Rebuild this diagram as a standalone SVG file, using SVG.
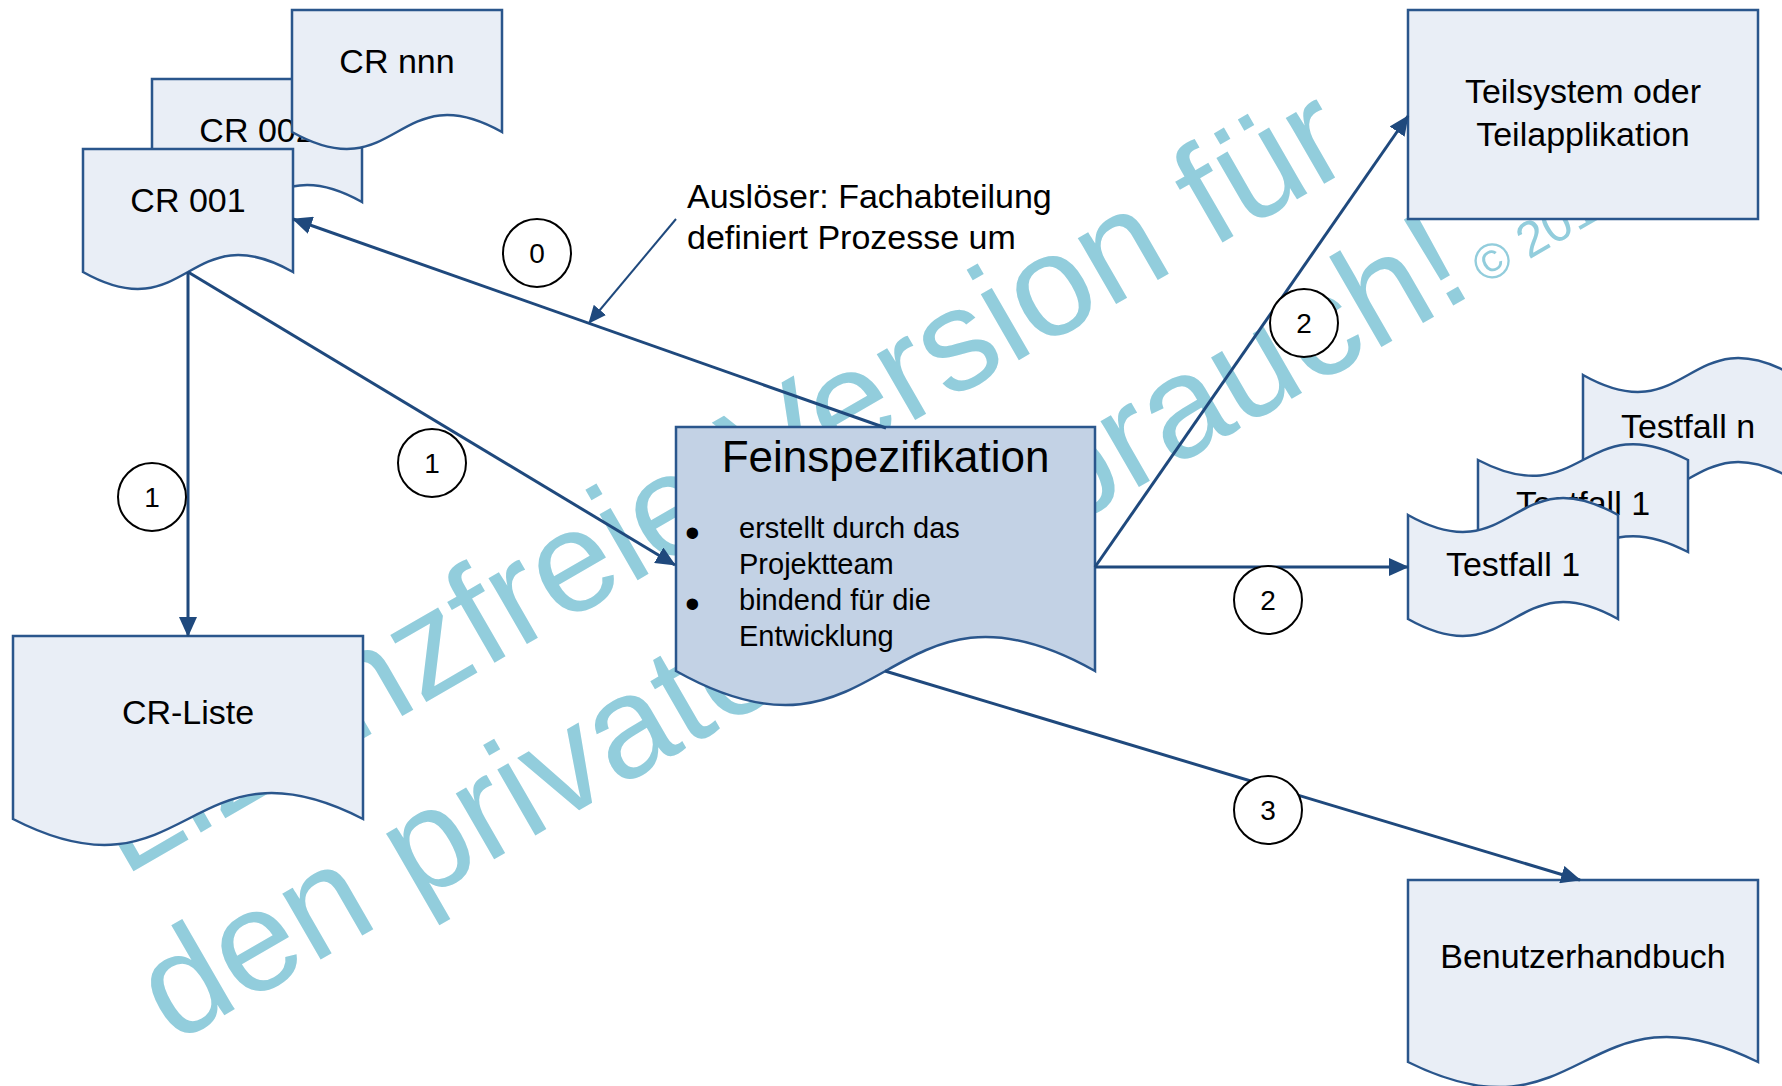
<svg xmlns="http://www.w3.org/2000/svg" width="1782" height="1086" viewBox="0 0 1782 1086">
  <defs>
    <style>
      text { font-family: "Liberation Sans", Arial, sans-serif; fill: #000; }
      .doc { fill: #e9eef6; stroke: #2a568c; stroke-width: 2.5; stroke-linejoin: miter; }
      .doc-dark { fill: #c3d2e5; stroke: #2a568c; stroke-width: 2.5; }
      .lbl { font-size: 34px; text-anchor: middle; }
      .edge { fill: none; stroke: #1f497d; stroke-width: 3; }
      .note { fill: none; stroke: #1f497d; stroke-width: 2; }
      .badge circle { fill: #fff; stroke: #000; stroke-width: 2; }
      .badge text { font-size: 28px; text-anchor: middle; }
      .wm { fill: #92cddc; text-anchor: middle; font-size: 144px; }
      .bullet { font-size: 42px; }
    </style>
    <marker id="arrow" markerUnits="userSpaceOnUse" markerWidth="20" markerHeight="18" refX="19" refY="9" orient="auto">
      <path d="M0,0 L20,9 L0,18 Z" fill="#1f497d"/>
    </marker>
    <marker id="arrow-sm" markerUnits="userSpaceOnUse" markerWidth="18" markerHeight="16" refX="17" refY="8" orient="auto">
      <path d="M0,0 L18,8 L0,16 Z" fill="#1f497d"/>
    </marker>
  </defs>

  <rect width="1782" height="1086" fill="#fff"/>

  <!-- watermark -->
  <g id="watermark" transform="translate(120,879) rotate(-30)">
    <text class="wm" x="716" y="0">Lizenzfreie Version für</text>
    <text class="wm" x="716" y="170">den privaten Gebrauch!</text>
    <text x="1479" y="168" style="fill:#92cddc;font-size:50px">© 201</text>
  </g>

  <!-- change requests stack -->
  <g id="cr002">
    <path class="doc" d="M152,79 H362 V202 C257,143 257,261 152,202 Z"/>
    <text class="lbl" x="257" y="142">CR 002</text>
  </g>
  <g id="crnnn">
    <path class="doc" d="M292,10 H502 V132 C397,73 397,191 292,132 Z"/>
    <text class="lbl" x="397" y="73">CR nnn</text>
  </g>
  <g id="cr001">
    <path class="doc" d="M83,149 H293 V272 C188,213 188,331 83,272 Z"/>
    <text class="lbl" x="188" y="212">CR 001</text>
  </g>

  <g id="crliste">
    <path class="doc" d="M13,636 H363 V819 C188,729 188,909 13,819 Z"/>
    <text class="lbl" x="188" y="724">CR-Liste</text>
  </g>

  <g id="feinspezifikation">
    <path class="doc-dark" d="M676,427 H1095 V671 C885.5,553 885.5,789 676,671 Z"/>
    <text x="885.5" y="472" style="font-size:44px;text-anchor:middle">Feinspezifikation</text>
    <g style="font-size:29px">
      <text class="bullet" x="685" y="547">•</text>
      <text x="739" y="538">erstellt durch das</text>
      <text x="739" y="574">Projektteam</text>
      <text class="bullet" x="685" y="618">•</text>
      <text x="739" y="610">bindend für die</text>
      <text x="739" y="646">Entwicklung</text>
    </g>
  </g>

  <g id="teilsystem">
    <rect class="doc" x="1408" y="10" width="350" height="209"/>
    <text class="lbl" x="1583" y="103">Teilsystem oder</text>
    <text class="lbl" x="1583" y="146">Teilapplikation</text>
  </g>

  <!-- test case stack -->
  <g id="testfall-n">
    <path class="doc" d="M1583,375 C1688,434 1688,316 1793,375 V479 C1688,420 1688,538 1583,479 Z"/>
    <text class="lbl" x="1688" y="438">Testfall n</text>
  </g>
  <g id="testfall-1b">
    <path class="doc" d="M1478,460 C1583,515 1583,405 1688,460 V552 C1583,497 1583,607 1478,552 Z"/>
    <text class="lbl" x="1583" y="515">Testfall 1</text>
  </g>
  <g id="testfall-1">
    <path class="doc" d="M1408,515 C1513,574 1513,456 1618,515 V619 C1513,560 1513,678 1408,619 Z"/>
    <text class="lbl" x="1513" y="576">Testfall 1</text>
  </g>

  <g id="benutzerhandbuch">
    <path class="doc" d="M1408,880 H1758 V1062 C1583,975 1583,1149 1408,1062 Z"/>
    <text class="lbl" x="1583" y="968">Benutzerhandbuch</text>
  </g>

  <g id="annotation">
    <text x="687" y="208" style="font-size:34px">Auslöser: Fachabteilung</text>
    <text x="687" y="249" style="font-size:34px">definiert Prozesse um</text>
  </g>

  <!-- connectors -->
  <g id="connectors">
    <path class="edge" d="M886,428 L293,219" marker-end="url(#arrow)"/>
    <path class="note" d="M676,219 L589,323" marker-end="url(#arrow-sm)"/>
    <path class="edge" d="M188,272 L675,565" marker-end="url(#arrow)"/>
    <path class="edge" d="M188,272 L188,636" marker-end="url(#arrow)"/>
    <path class="edge" d="M1095,567 L1408,116" marker-end="url(#arrow)"/>
    <path class="edge" d="M1095,567 L1408,567" marker-end="url(#arrow)"/>
    <path class="edge" d="M885,671 L1580,880" marker-end="url(#arrow)"/>

    <g class="badge"><circle cx="537" cy="253" r="34"/><text x="537" y="263">0</text></g>
    <g class="badge"><circle cx="432" cy="463" r="34"/><text x="432" y="473">1</text></g>
    <g class="badge"><circle cx="152" cy="497" r="34"/><text x="152" y="507">1</text></g>
    <g class="badge"><circle cx="1304" cy="323" r="34"/><text x="1304" y="333">2</text></g>
    <g class="badge"><circle cx="1268" cy="600" r="34"/><text x="1268" y="610">2</text></g>
    <g class="badge"><circle cx="1268" cy="810" r="34"/><text x="1268" y="820">3</text></g>
  </g>
</svg>
